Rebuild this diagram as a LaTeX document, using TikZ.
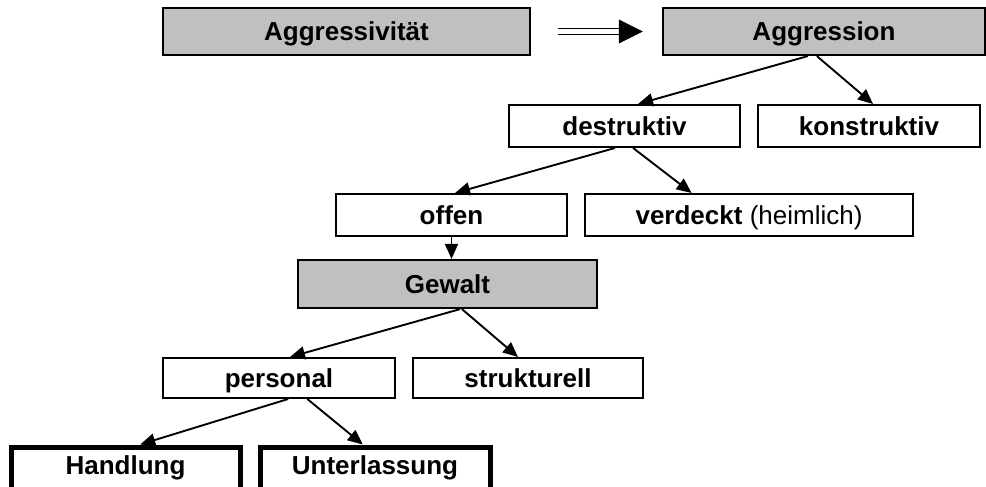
\documentclass[tikz,border=0pt]{standalone}
\usepackage{fontspec}
\setmainfont{Liberation Sans}
\usetikzlibrary{calc,arrows.meta}
\definecolor{boxgrey}{RGB}{192,192,192}
\begin{document}
\begin{tikzpicture}[x=1pt,y=-1pt,
  box/.style={draw, line width=2pt, rectangle, inner sep=0pt,
    font=\fontsize{26}{30}\selectfont\bfseries, minimum height=42pt,
    text height=18.7pt, text depth=0pt},
  greybox/.style={box, fill=boxgrey, minimum height=47pt, line width=2.2pt},
  thickbox/.style={box, line width=5pt, text depth=7pt},
  arr/.style={line width=1.9pt, -{Triangle[length=15pt,width=13pt]}},
  dblline/.style={double, line width=1.8pt, double distance=4.2pt}
]
\useasboundingbox (0,0) rectangle (986,487);
\clip (0,0) rectangle (986,487);

% nodes
\node[greybox, minimum width=367pt] (aggr) at (346.5,31.5) {Aggressivität};
\node[greybox, minimum width=322pt] (aggn) at (824,31.5) {Aggression};
\node[box, minimum width=231pt] (destr) at (624.5,126) {destruktiv};
\node[box, minimum width=222pt] (konstr) at (869,126) {konstruktiv};
\node[box, minimum width=231pt] (offen) at (451.5,215) {offen};
\node[box, minimum width=328pt] (verd) at (749,215) {verdeckt \mdseries(heimlich)};
\node[greybox, minimum width=299pt, minimum height=48pt] (gewalt) at (447.5,284) {Gewalt};
\node[box, minimum width=232pt, minimum height=40pt] (pers) at (279,378) {personal};
\node[box, minimum width=230pt, minimum height=40pt] (strukt) at (528,378) {strukturell};
\node[thickbox, minimum width=229pt, minimum height=44pt] (handl) at (125.5,469) {Handlung};
\node[thickbox, minimum width=230pt, minimum height=44pt] (unterl) at (375,469) {Unterlassung};

% double arrow
\draw[dblline, shorten <=27pt, shorten >=41pt] (aggr.east) -- (aggn.west);
\fill ($(aggn.west)+(-43,-12)$) -- ($(aggn.west)+(-19,0)$) -- ($(aggn.west)+(-43,12)$) -- cycle;

% connectors
\draw[arr] ($(aggn.south west)!0.45!(aggn.south east)$) -- ($(destr.north west)!0.558!(destr.north east)$);
\draw[arr] ($(aggn.south west)!0.478!(aggn.south east)$) -- ($(konstr.north west)!0.518!(konstr.north east)$);
\draw[arr] ($(destr.south west)!0.459!(destr.south east)$) -- ($(offen.north west)!0.515!(offen.north east)$);
\draw[arr] ($(destr.south west)!0.537!(destr.south east)$) -- ($(verd.north west)!0.326!(verd.north east)$);
\draw[arr] (offen.south) -- (offen.south |- gewalt.north);
\draw[arr] ($(gewalt.south west)!0.542!(gewalt.south east)$) -- ($(pers.north west)!0.547!(pers.north east)$);
\draw[arr] ($(gewalt.south west)!0.548!(gewalt.south east)$) -- ($(strukt.north west)!0.457!(strukt.north east)$);
\draw[arr] ($(pers.south west)!0.539!(pers.south east)$) -- ($(handl.north west)!0.563!(handl.north east)$);
\draw[arr] ($(pers.south west)!0.621!(pers.south east)$) -- ($(unterl.north west)!0.448!(unterl.north east)$);
\end{tikzpicture}
\end{document}
